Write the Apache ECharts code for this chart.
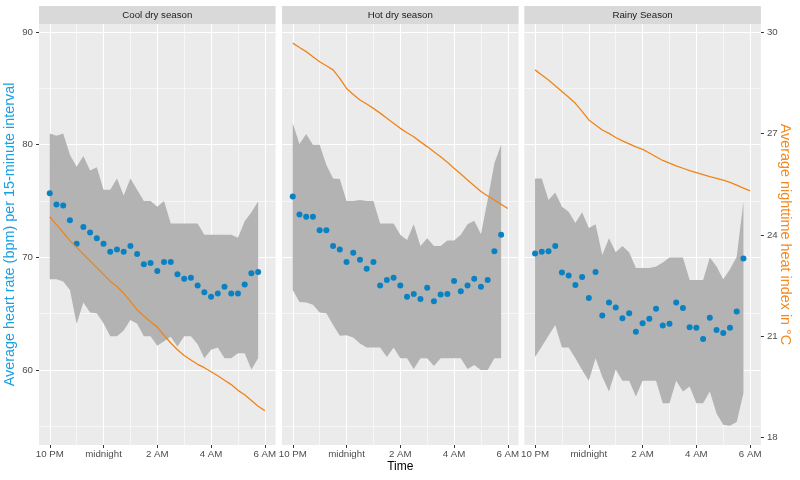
<!DOCTYPE html>
<html><head><meta charset="utf-8">
<script src="https://cdn.jsdelivr.net/npm/echarts@6/dist/echarts.min.js"></script>
<style>html,body{margin:0;padding:0;background:#fff}#c{width:800px;height:480px}</style>
</head><body><div id="c"></div>
<script>
// ---------- data ----------
const panelTitles = ['Cool dry season', 'Hot dry season', 'Rainy Season'];
// hours after midnight of the previous day (22 = 10 PM, 24 = midnight, 30 = 6 AM)
const times = [22, 22.25, 22.5, 22.75, 23, 23.25, 23.5, 23.75, 24, 24.25, 24.5, 24.75,
  25, 25.25, 25.5, 25.75, 26, 26.25, 26.5, 26.75, 27, 27.25, 27.5, 27.75,
  28, 28.25, 28.5, 28.75, 29, 29.25, 29.5, 29.75, 30];
const xTicks = [22, 24, 26, 28, 30];
const xTickLabels = ['10 PM', 'midnight', '2 AM', '4 AM', '6 AM'];
const xMinor = [23, 25, 27, 29];
const yTicks = [60, 70, 80, 90];
const yMinor = [55, 65, 75, 85];
const tempTicks = [18, 21, 24, 27, 30];

const coolHR = [75.7, 74.7, 74.6, 73.3, 71.2, 72.7, 72.2, 71.7, 71.2, 70.5, 70.7, 70.5, 71.0, 70.3, 69.4, 69.5,
  68.8, 69.6, 69.6, 68.5, 68.1, 68.2, 67.5, 66.9, 66.5, 66.8, 67.4, 66.8, 66.8, 67.6, 68.6, 68.7];
const coolHigh = [81.0, 80.8, 81.0, 79.1, 78.05, 79.0, 77.7, 78.0, 76.0, 76.0, 77.0, 75.5, 77.0, 76.0, 75.0, 75.0,
  74.5, 75.0, 73.0, 73.0, 73.0, 73.0, 73.0, 72.0, 72.0, 72.0, 72.0, 72.0, 71.75, 73.2, 74.0, 74.95];
const coolLow = [68.05, 68.05, 67.85, 67.1, 64.1, 66.0, 65.1, 65.05, 64.15, 63.0, 63.0, 63.5, 64.45, 64.1, 63.0, 63.0,
  62.15, 62.55, 62.95, 62.1, 63.0, 63.0, 62.3, 61.05, 61.8, 62.0, 61.05, 61.05, 61.5, 61.5, 60.05, 61.05];
const coolTemp = [24.53, 24.3, 24.07, 23.83, 23.63, 23.43, 23.23, 23.03, 22.83, 22.63, 22.47, 22.27, 22.03, 21.78, 21.6, 21.43,
  21.27, 21.03, 20.8, 20.6, 20.43, 20.3, 20.17, 20.07, 19.95, 19.83, 19.7, 19.57, 19.4, 19.27, 19.1, 18.93, 18.8];

const hotHR = [75.4, 73.8, 73.6, 73.6, 72.4, 72.4, 71.0, 70.7, 69.6, 70.4, 69.8, 69.0, 69.6, 67.5, 68.0, 68.2,
  67.5, 66.5, 66.75, 66.3, 67.3, 66.1, 66.7, 66.75, 67.9, 67.0, 67.5, 68.1, 67.4, 68.0, 70.55, 72.0];
const hotHigh = [81.9, 80.05, 80.95, 80.0, 80.0, 78.2, 77.0, 76.95, 75.0, 75.0, 75.1, 75.0, 75.0, 73.0, 73.0, 73.0,
  72.0, 71.55, 72.95, 71.0, 71.7, 71.0, 71.0, 71.5, 71.5, 72.0, 72.95, 73.25, 72.05, 75.1, 78.35, 80.0];
const hotLow = [67.1, 66.05, 66.0, 65.8, 65.1, 65.05, 64.0, 63.05, 63.1, 62.9, 62.35, 62.0, 62.0, 62.0, 61.15, 62.0,
  61.05, 61.05, 60.1, 61.05, 61.05, 60.35, 61.05, 61.05, 61.05, 61.05, 60.1, 60.45, 60.0, 60.0, 61.05, 61.05];
const hotTemp = [29.67, 29.54, 29.42, 29.27, 29.12, 29.0, 28.88, 28.63, 28.33, 28.15, 27.99, 27.87, 27.74, 27.6, 27.45, 27.3,
  27.15, 27.02, 26.9, 26.75, 26.61, 26.46, 26.31, 26.15, 25.97, 25.8, 25.62, 25.45, 25.28, 25.15, 25.03, 24.9, 24.78];

const rainyHR = [70.35, 70.5, 70.55, 71.0, 68.65, 68.4, 67.55, 68.25, 66.4, 68.7, 64.85, 66.0, 65.55, 64.6, 65.05, 63.4,
  64.15, 64.55, 65.45, 63.95, 64.1, 66.0, 65.5, 63.8, 63.75, 62.75, 64.65, 63.55, 63.3, 63.75, 65.2, 69.9];
const rainyHigh = [77.0, 77.0, 75.1, 75.75, 74.5, 74.05, 73.05, 74.0, 72.6, 72.95, 70.2, 71.7, 70.45, 71.0, 70.45, 69.05,
  69.05, 69.05, 69.2, 69.55, 70.0, 70.0, 70.0, 68.0, 68.0, 68.0, 70.0, 69.2, 68.05, 68.95, 70.05, 74.95];
const rainyLow = [61.15, 62.1, 63.05, 64.0, 62.0, 62.0, 61.05, 60.0, 59.05, 61.05, 59.4, 58.1, 60.05, 59.05, 59.05, 57.65,
  59.05, 59.05, 59.05, 57.05, 57.05, 59.05, 58.1, 58.55, 57.05, 57.05, 58.1, 56.15, 55.15, 55.05, 55.4, 57.95];
const rainyTemp = [28.88, 28.73, 28.58, 28.41, 28.24, 28.07, 27.89, 27.65, 27.4, 27.25, 27.1, 27.0, 26.88, 26.78, 26.69, 26.6,
  26.53, 26.42, 26.31, 26.2, 26.12, 26.04, 25.97, 25.9, 25.84, 25.78, 25.72, 25.67, 25.62, 25.55, 25.47, 25.38, 25.3];

// ---------- layout / style ----------
const panelData = [
  {hr: coolHR, high: coolHigh, low: coolLow, temp: coolTemp},
  {hr: hotHR, high: hotHigh, low: hotLow, temp: hotTemp},
  {hr: rainyHR, high: rainyHigh, low: rainyLow, temp: rainyTemp}
];
const FONT = '"Liberation Sans", Arial, sans-serif';
const gridLefts = [39, 282, 524.3];
const gridW = 236.6, gridTop = 24, gridH = 421, stripH = 18;
const X_MIN = 21.6, X_MAX = 30.4, Y_MIN = 53.35, Y_MAX = 90.71;
const BLUE = '#0a82c2', ORANGE = '#ef8418', RIBBON = '#b3b3b3';

const grids = [], xAxes = [], yAxes = [], series = [], graphics = [];
const tickLabelStyle = {fontSize: 9.7, color: '#4d4d4d', fontFamily: FONT};

gridLefts.forEach((left, g) => {
  grids.push({left: left, top: gridTop, width: gridW, height: gridH, show: true, z: 0,
    backgroundColor: '#ebebeb', borderWidth: 0, containLabel: false, outerBoundsMode: 'none'});
  graphics.push({type: 'rect', left: left, top: gridTop - stripH, shape: {width: gridW, height: stripH},
    style: {fill: '#d9d9d9'}, silent: true});
  graphics.push({type: 'text', x: left + gridW / 2, y: gridTop - stripH / 2,
    style: {text: panelTitles[g], fill: '#1a1a1a', font: '9.7px ' + FONT, textAlign: 'center', textVerticalAlign: 'middle'}, silent: true});

  xAxes.push({type: 'value', gridIndex: g, min: X_MIN, max: X_MAX,
    splitLine: {show: false}, axisLine: {show: false},
    axisTick: {show: true, customValues: xTicks, length: 3, lineStyle: {color: '#333333', width: 1}},
    axisLabel: Object.assign({customValues: xTicks, margin: 4,
      formatter: v => xTickLabels[xTicks.indexOf(v)] || ''}, tickLabelStyle),
    name: g === 1 ? 'Time' : '', nameLocation: 'middle', nameGap: 16, nameMoveOverlap: false,
    nameTextStyle: {fontSize: 12, color: '#000000', fontFamily: FONT}
  });
  yAxes.push({type: 'value', gridIndex: g, min: Y_MIN, max: Y_MAX,
    splitLine: {show: false}, axisLine: {show: false},
    axisTick: {show: g === 0, customValues: yTicks, length: 3, lineStyle: {color: '#333333', width: 1}},
    axisLabel: Object.assign({show: g === 0, customValues: yTicks, margin: 6}, tickLabelStyle),
    name: g === 0 ? 'Average heart rate (bpm) per 15-minute interval' : '',
    nameLocation: 'middle', nameRotate: 90, nameGap: 22, nameMoveOverlap: false,
    nameTextStyle: {fontSize: 14.4, color: '#1a9fe0', fontFamily: FONT}
  });
  yAxes.push({type: 'value', gridIndex: g, position: 'right', min: Y_MIN / 3, max: Y_MAX / 3, show: g === 2,
    splitLine: {show: false}, axisLine: {show: false},
    axisTick: {show: true, customValues: tempTicks, length: 3, lineStyle: {color: '#333333', width: 1}},
    axisLabel: Object.assign({customValues: tempTicks, margin: 6}, tickLabelStyle),
    name: g === 2 ? 'Average nighttime heat index in °C' : '',
    nameLocation: 'middle', nameRotate: -90, nameGap: 17, nameMoveOverlap: false,
    nameTextStyle: {fontSize: 14.4, color: '#f5891f', fontFamily: FONT}
  });

  const d = panelData[g];
  const gridLines = [];
  yTicks.forEach(v => gridLines.push({yAxis: v, lineStyle: {width: 1.1}}));
  yMinor.forEach(v => gridLines.push({yAxis: v, lineStyle: {width: 0.55}}));
  xTicks.forEach(v => gridLines.push({xAxis: v, lineStyle: {width: 1.1}}));
  xMinor.forEach(v => gridLines.push({xAxis: v, lineStyle: {width: 0.55}}));

  // panel grid lines (white), drawn through the axes as mark lines
  series.push({type: 'scatter', xAxisIndex: g, yAxisIndex: 2 * g,
    data: d.hr.map((v, i) => [times[i], v]), symbolSize: 0, itemStyle: {opacity: 0},
    z: 4, silent: true,
    markLine: {z: 4, silent: true, symbol: ['none', 'none'], label: {show: false}, animation: false,
      lineStyle: {color: '#ffffff', type: 'solid', opacity: 1}, emphasis: {disabled: true}, data: gridLines}
  });
  // ribbon (range band) as polygon through the axes
  series.push({type: 'custom', xAxisIndex: g, yAxisIndex: 2 * g,
    data: d.low.map((v, i) => [times[i], v, d.high[i]]), z: 5, silent: true,
    renderItem: (params, api) => {
      if (params.dataIndex !== 0) return null;
      const pts = [];
      for (let i = 0; i < d.high.length; i++) pts.push(api.coord([times[i], d.high[i]]));
      for (let i = d.low.length - 1; i >= 0; i--) pts.push(api.coord([times[i], d.low[i]]));
      return {type: 'polygon', shape: {points: pts}, style: {fill: RIBBON}};
    }
  });
  series.push({type: 'scatter', xAxisIndex: g, yAxisIndex: 2 * g,
    data: d.hr.map((v, i) => [times[i], v]), symbolSize: 6,
    itemStyle: {color: BLUE, opacity: 1}, z: 6, silent: true
  });
  series.push({type: 'line', xAxisIndex: g, yAxisIndex: 2 * g + 1,
    data: d.temp.map((v, i) => [times[i], v]), symbol: 'none', showSymbol: false,
    lineStyle: {color: ORANGE, width: 1.3}, z: 7, silent: true
  });
});

const chart = echarts.init(document.getElementById('c'), null, {renderer: 'canvas'});
chart.setOption({
  animation: false,
  backgroundColor: '#ffffff',
  textStyle: {fontFamily: FONT},
  grid: grids, xAxis: xAxes, yAxis: yAxes, series: series, graphic: graphics
});
</script></body></html>
